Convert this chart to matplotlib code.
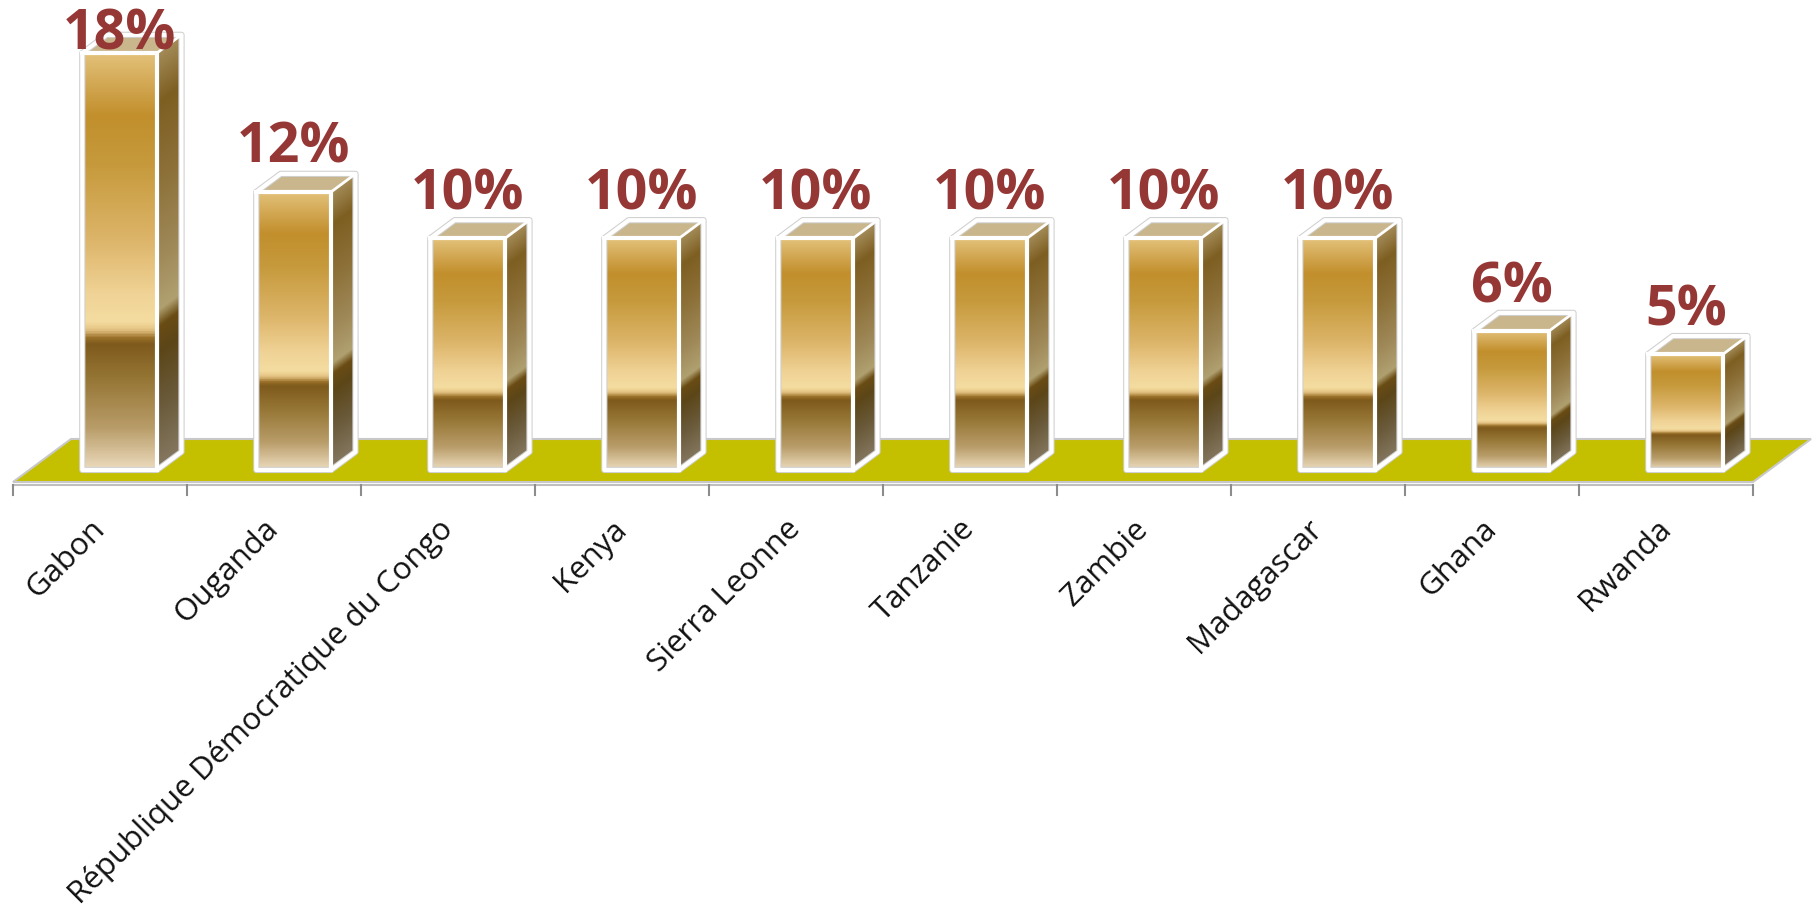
import numpy as np
import matplotlib.pyplot as plt
from matplotlib.colors import LinearSegmentedColormap
from matplotlib.patches import Polygon

## DATA
countries = ["Gabon", "Ouganda", "République Démocratique du Congo", "Kenya",
             "Sierra Leonne", "Tanzanie", "Zambie", "Madagascar", "Ghana", "Rwanda"]
shares = [18, 12, 10, 10, 10, 10, 10, 10, 6, 5]
share_labels = ["18%", "12%", "10%", "10%", "10%", "10%", "10%", "10%", "6%", "5%"]

## GEOMETRY (pixel scale of the figure -> data units)
W, H, DPI = 1812, 917, 100
PX_X = 174.0        # pixels per category
PX_Y = 23.17        # pixels per percentage point
X0_PX, Y0_PX = 13, 470

DX, DY = 58 / PX_X, 43 / PX_Y      # full floor depth, oblique
FLOOR_Y = -12 / PX_Y               # front edge of floor
T0, T1 = 0.28, 0.70                # bar front / back depth on the floor
BAR_OFF, BAR_W = 0.305, 0.43

front_cmap = LinearSegmentedColormap.from_list("front", [
    (0.00, "#E3C27A"), (0.05, "#D8B060"), (0.15, "#C28F2C"), (0.27, "#C69A3C"),
    (0.45, "#DDB56A"), (0.58, "#F0D396"), (0.645, "#F4DCA0"), (0.665, "#E6C585"),
    (0.685, "#9A7028"), (0.70, "#7E5A1C"), (0.78, "#957534"), (0.90, "#B89C68"),
    (1.00, "#EBDABC")])
side_cmap = LinearSegmentedColormap.from_list("side", [
    (0.00, "#A38B58"), (0.12, "#7E5F22"), (0.30, "#8C7038"), (0.50, "#A08A5A"),
    (0.62, "#B0A070"), (0.66, "#6A4C14"), (0.72, "#5C4618"), (0.85, "#6A5A3A"),
    (1.00, "#857860")])

fig = plt.figure(figsize=(W / DPI, H / DPI), dpi=DPI)
fig.patch.set_facecolor("white")
ax = fig.add_axes([0, 0, 1, 1])
ax.set_axis_off()

n = len(shares)

# floor
floor = Polygon([(0, FLOOR_Y), (n, FLOOR_Y), (n + DX, FLOOR_Y + DY), (DX, FLOOR_Y + DY)],
                closed=True, facecolor="#C4C000", edgecolor="#C8C8C8", lw=1.5, zorder=1)
ax.add_patch(floor)

# axis line + ticks
axis_y = -15 / PX_Y
ax.plot([0, n], [axis_y, axis_y], color="#BFBFBF", lw=1.5, zorder=1)
for i in range(n + 1):
    ax.plot([i, i], [axis_y, axis_y - 10 / PX_Y], color="#8C8C8C", lw=1.5, zorder=1)

ox, oy = (T1 - T0) * DX, (T1 - T0) * DY
base = FLOOR_Y + T0 * DY

for i, v in enumerate(shares):
    xl = i + T0 * DX + BAR_OFF
    xr = xl + BAR_W
    top = base + v

    # front face
    grad = np.linspace(0, 1, 400).reshape(-1, 1)
    ax.imshow(grad, cmap=front_cmap, extent=(xl, xr, base, top), origin="upper",
              aspect="auto", interpolation="bilinear", zorder=3)

    # side face, bands follow the depth
    side = Polygon([(xr, base), (xr + ox, base + oy), (xr + ox, top + oy), (xr, top)],
                   closed=True, transform=ax.transData)
    gx, gy = np.meshgrid(np.linspace(xr, xr + ox, 60),
                         np.linspace(base, top + oy, 400))
    t = (gx - xr) / ox
    frac = np.clip(1 - (gy - base - t * oy) / v, 0, 1)
    im = ax.imshow(frac, cmap=side_cmap, vmin=0, vmax=1,
                   extent=(xr, xr + ox, base, top + oy), origin="lower",
                   aspect="auto", interpolation="bilinear", zorder=3)
    im.set_clip_path(side)

    # top face
    ax.add_patch(Polygon([(xl, top), (xr, top), (xr + ox, top + oy), (xl + ox, top + oy)],
                         closed=True, facecolor="#C9B68C", edgecolor="none", zorder=3))

    # white outline with faint grey rim
    outline = [(xl, base), (xr, base), (xr + ox, base + oy), (xr + ox, top + oy),
               (xl + ox, top + oy), (xl, top)]
    ax.add_patch(Polygon(outline, closed=True, fill=False, edgecolor="#CFCFCF",
                         lw=4.5, joinstyle="round", zorder=4))
    ax.add_patch(Polygon(outline, closed=True, fill=False, edgecolor="white",
                         lw=3, joinstyle="round", zorder=4))
    ax.plot([xl, xr, xr], [top, top, base], color="white", lw=3, zorder=4,
            solid_joinstyle="round")
    ax.plot([xr, xr + ox], [top, top + oy], color="white", lw=2, zorder=4)

    # value label
    ax.text((xl + xr) / 2, min(v + 1.25, 18.13), share_labels[i], ha="center",
            va="baseline", fontsize=40, fontweight="bold", family="Open Sans",
            color="#953735", zorder=5)

    # category label
    ax.text(i + 0.5, -2.35, countries[i], rotation=45, rotation_mode="anchor",
            ha="right", va="center", fontsize=22.5, family="Open Sans",
            color="#111111", zorder=5)

ax.set_xlim(-X0_PX / PX_X, (W - X0_PX) / PX_X)
ax.set_ylim(-(H - Y0_PX) / PX_Y, Y0_PX / PX_Y)

fig.savefig("out.png", dpi=DPI)
